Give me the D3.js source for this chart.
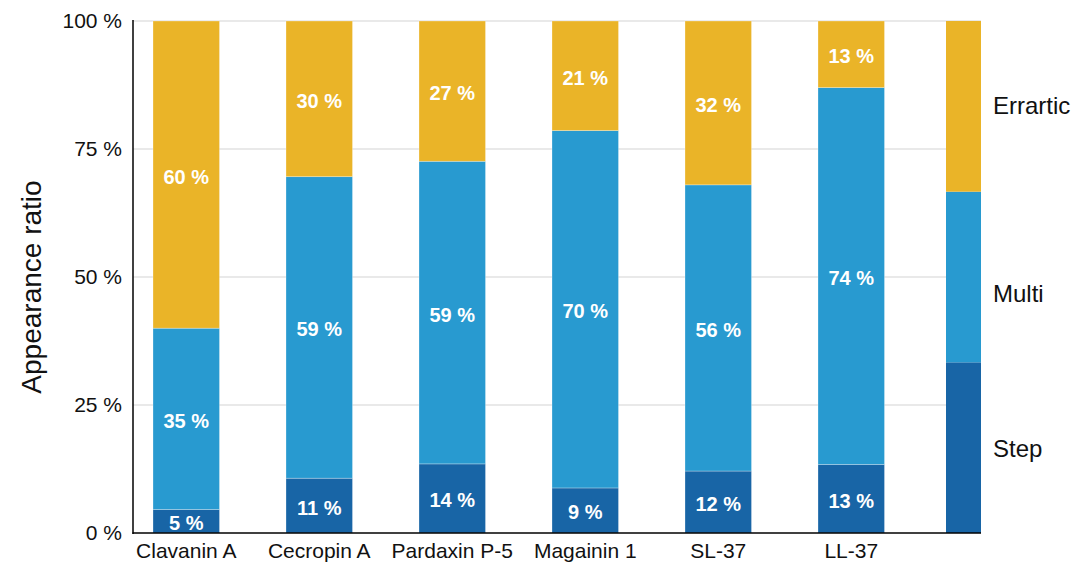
<!DOCTYPE html>
<html><head><meta charset="utf-8">
<script src="https://cdn.jsdelivr.net/npm/d3@7"></script>
<style>body{margin:0;background:#fff}svg{display:block}text{font-family:"Liberation Sans",Arial,sans-serif}</style>
</head><body>
<svg id="c" width="1080" height="568"></svg>
<script>
const categories = ["Clavanin A","Cecropin A","Pardaxin P-5","Magainin 1","SL-37","LL-37"];
const step = [4.6,10.7,13.5,8.8,12.1,13.4];
const multi = [35.4,58.9,59.1,69.8,55.9,73.6];
const erratic = [60.0,30.4,27.4,21.4,32.0,13.0];
const seriesNames = ["Step","Multi","Errartic"];
const yTicks = [0,25,50,75,100];
const colors = {"Step":"#1865A6","Multi":"#289AD0","Errartic":"#EAB428"};

const svg = d3.select("#c");
const x0 = 133, x1 = 981, yTop = 21, yBot = 533;
const y = d3.scaleLinear().domain([0,100]).range([yBot, yTop]);
const x = d3.scaleBand().domain(categories).range([153, 884.5]).paddingInner(0.5).paddingOuter(0);

// gridlines
svg.append("g").selectAll("line").data(yTicks.filter(d=>d>0)).join("line")
  .attr("x1", x0).attr("x2", x1).attr("y1", d=>y(d)).attr("y2", d=>y(d))
  .attr("stroke", "#d3d3d3").attr("stroke-width", 1);

const rows = categories.map((c,i)=>({cat:c, Step:step[i], Multi:multi[i], Errartic:erratic[i]}));
const stacked = d3.stack().keys(seriesNames)(rows);

const g = svg.append("g");
stacked.forEach(s => {
  g.append("g").selectAll("rect").data(s).join("rect")
    .attr("x", d=>x(d.data.cat)).attr("width", x.bandwidth())
    .attr("y", d=>y(d[1])).attr("height", d=>y(d[0])-y(d[1]))
    .attr("fill", colors[s.key])
    .attr("stroke", "#ffffff").attr("stroke-opacity", 0.35).attr("stroke-width", 0.8);
  g.append("g").selectAll("text").data(s).join("text")
    .attr("x", d=>x(d.data.cat)+x.bandwidth()/2)
    .attr("y", d=>(y(d[0])+y(d[1]))/2 + 2)
    .attr("text-anchor","middle").attr("dominant-baseline","central")
    .attr("fill","#fff").attr("font-weight","bold").attr("font-size",20)
    .text(d=>Math.round(d[1]-d[0]) + " %");
});

// legend bar
const lg = d3.scaleLinear().domain([0,3]).range([yBot, yTop]);
const legendShift = [1, 16, -1];
seriesNames.forEach((k,i)=>{
  svg.append("rect").attr("x",946).attr("width",35)
    .attr("y", lg(i+1)).attr("height", lg(i)-lg(i+1)).attr("fill", colors[k]);
  svg.append("text").attr("x",993).attr("y",(lg(i)+lg(i+1))/2 + legendShift[i])
    .attr("dominant-baseline","central").attr("font-size",24).attr("fill","#111").text(k);
});

// axes
const yAxis = d3.axisLeft(y).tickValues(yTicks).tickSize(0).tickPadding(11).tickFormat(d=>d+" %");
const ya = svg.append("g").attr("transform",`translate(${x0},0)`).call(yAxis);
ya.select(".domain").remove();
ya.selectAll("text").attr("font-size",21).attr("fill","#111").attr("font-family","Liberation Sans, Arial, sans-serif");

svg.append("line").attr("x1",x0).attr("x2",x0).attr("y1",yTop-1).attr("y2",yBot+1).attr("stroke","#000").attr("stroke-width",1.5);
svg.append("line").attr("x1",x0-0.5).attr("x2",x1).attr("y1",yBot).attr("y2",yBot).attr("stroke","#000").attr("stroke-width",1.5);

const xAxis = d3.axisBottom(x).tickSize(0).tickPadding(10);
const xa = svg.append("g").attr("transform",`translate(0,${yBot})`).call(xAxis);
xa.select(".domain").remove();
xa.selectAll("text").attr("font-size",21).attr("fill","#111").attr("font-family","Liberation Sans, Arial, sans-serif");

svg.append("text").attr("transform",`translate(31,${(yTop+yBot)/2 + 10}) rotate(-90)`)
  .attr("text-anchor","middle").attr("dominant-baseline","central")
  .attr("font-size",28).attr("fill","#111").text("Appearance ratio");
</script>
</body></html>
